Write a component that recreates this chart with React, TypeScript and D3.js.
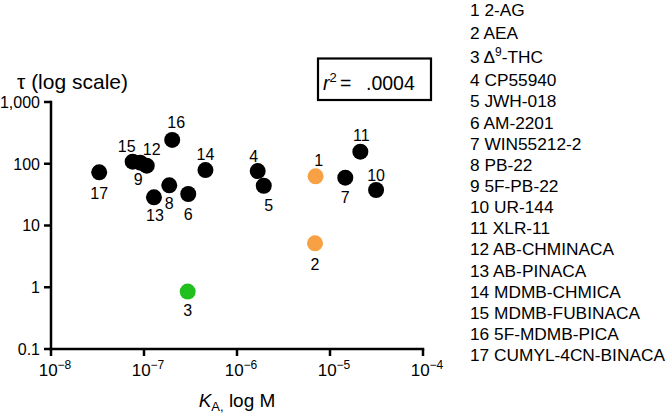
import React from "react";
import * as d3 from "d3";

// ---- data ----
const compoundIds = [1, 2, 3, 4, 5, 6, 7, 8, 9, 10, 11, 12, 13, 14, 15, 16, 17];
const compoundNames = [
  "2-AG", "AEA", "Δ^9-THC", "CP55940", "JWH-018", "AM-2201", "WIN55212-2", "PB-22",
  "5F-PB-22", "UR-144", "XLR-11", "AB-CHMINACA", "AB-PINACA", "MDMB-CHMICA",
  "MDMB-FUBINACA", "5F-MDMB-PICA", "CUMYL-4CN-BINACA",
];
// K_A (M)
const kaValues = [
  7.0e-6, 6.9e-6, 2.95e-7, 1.67e-6, 1.94e-6, 2.99e-7, 1.46e-5, 1.87e-7,
  9.1e-8, 3.13e-5, 2.12e-5, 1.07e-7, 1.28e-7, 4.58e-7, 7.55e-8, 2.01e-7, 3.3e-8,
];
// tau
const tauValues = [
  62.6, 5.15, 0.85, 76, 44, 32.4, 59.5, 44.8,
  104, 37.6, 157, 93, 28.6, 79, 108, 243, 72.7,
];
const groups = ["endo", "endo", "thc", "syn", "syn", "syn", "syn", "syn", "syn", "syn", "syn", "syn", "syn", "syn", "syn", "syn", "syn"];
const yTicks = [0.1, 1, 10, 100, 1000];
const xTickExps = [-8, -7, -6, -5, -4];
const r2Text = ".0004";

// ---- styling ----
const colors: Record<string, string> = { endo: "#F8A044", thc: "#22C01E", syn: "#000000" };
// label offsets (dx, dy) relative to the dot
const labelOffsets: [number, number][] = [
  [3, -16], [0, 21], [0, 19], [-4, -15], [5, 19], [0, 20], [0, 20], [0, 18],
  [-2, 17], [0, -15], [1, -16], [5, -16], [1, 18], [0, -16], [-6, -15], [4, -18], [0, 21],
];
const FONT = "'Liberation Sans', Arial, Helvetica, sans-serif";

export default function App() {
  const x = d3.scaleLog().domain([1e-8, 1e-4]).range([51, 423]);
  const y = d3.scaleLog().domain([0.1, 1000]).range([349, 102]);
  const fmt = d3.format(",");
  const legendY = (i: number) => (i < 2 ? 10 + i * 22.3 : i === 2 ? 57 : 80 + (i - 3) * 21.15);
  const sw = 2.5;
  const x0 = x.range()[0];
  const yBottom = y.range()[0];

  return (
    <svg width={670} height={415} style={{ position: "absolute", left: 0, top: 0, background: "#fff" }} fontFamily={FONT}>
      {/* y axis */}
      <line x1={x0} x2={x0} y1={y(1000) - sw / 2} y2={yBottom + sw / 2} stroke="#000" strokeWidth={sw} />
      {yTicks.map((t) => (
        <g key={"yt" + t}>
          <line x1={x0 - 7} x2={x0} y1={y(t)} y2={y(t)} stroke="#000" strokeWidth={sw} />
          <text x={x0 - 11} y={y(t)} dy="0.36em" textAnchor="end" fontSize={16} fill="#000">
            {t < 1 ? String(t) : fmt(t)}
          </text>
        </g>
      ))}
      {/* x axis */}
      <line x1={x0 - sw / 2} x2={x(1e-4) + sw / 2} y1={yBottom} y2={yBottom} stroke="#000" strokeWidth={sw} />
      {xTickExps.map((e) => {
        const px = x(Math.pow(10, e));
        return (
          <g key={"xt" + e}>
            <line x1={px} x2={px} y1={yBottom} y2={yBottom + 7} stroke="#000" strokeWidth={sw} />
            <text x={px + 4} y={yBottom + 27} textAnchor="middle" fontSize={17} fill="#000">
              10
              <tspan fontSize={12} dy={-7}>{"\u2212" + Math.abs(e)}</tspan>
            </text>
          </g>
        );
      })}
      {/* axis titles */}
      <text x={17} y={89} fontSize={21} fill="#000">τ (log scale)</text>
      <text x={237} y={407} textAnchor="middle" fontSize={19} fill="#000">
        <tspan fontStyle="italic">K</tspan>
        <tspan fontSize={13} dy={4}>A,</tspan>
        <tspan dy={-4}> log M</tspan>
      </text>
      {/* r^2 box */}
      <rect x={318} y={58.5} width={113} height={41.5} fill="none" stroke="#000" strokeWidth={2.2} />
      <text y={90} fontSize={19.5} fill="#000">
        <tspan x={323} fontStyle="italic">r</tspan>
        <tspan fontSize={13} dy={-8}>2</tspan>
        <tspan x={340} dy={8}>=</tspan>
        <tspan x={366}>{r2Text}</tspan>
      </text>
      {/* dots */}
      {compoundIds.map((id, i) => (
        <circle key={"c" + id} cx={x(kaValues[i])} cy={y(tauValues[i])} r={8} fill={colors[groups[i]]} />
      ))}
      {compoundIds.map((id, i) => (
        <text
          key={"l" + id}
          x={x(kaValues[i]) + labelOffsets[i][0]}
          y={y(tauValues[i]) + labelOffsets[i][1]}
          dy="0.36em"
          textAnchor="middle"
          fontSize={16}
          fill="#000"
        >
          {id}
        </text>
      ))}
      {/* legend */}
      {compoundIds.map((id, i) => {
        const parts = compoundNames[i].split("^");
        return (
          <text key={"lg" + id} x={470} y={legendY(i)} dy="0.36em" fontSize={17.3} fill="#000">
            {id + " " + parts[0]}
            {parts.length > 1 && (
              <>
                <tspan fontSize={12} dy={-7}>{parts[1][0]}</tspan>
                <tspan dy={7}>{parts[1].slice(1)}</tspan>
              </>
            )}
          </text>
        );
      })}
    </svg>
  );
}
